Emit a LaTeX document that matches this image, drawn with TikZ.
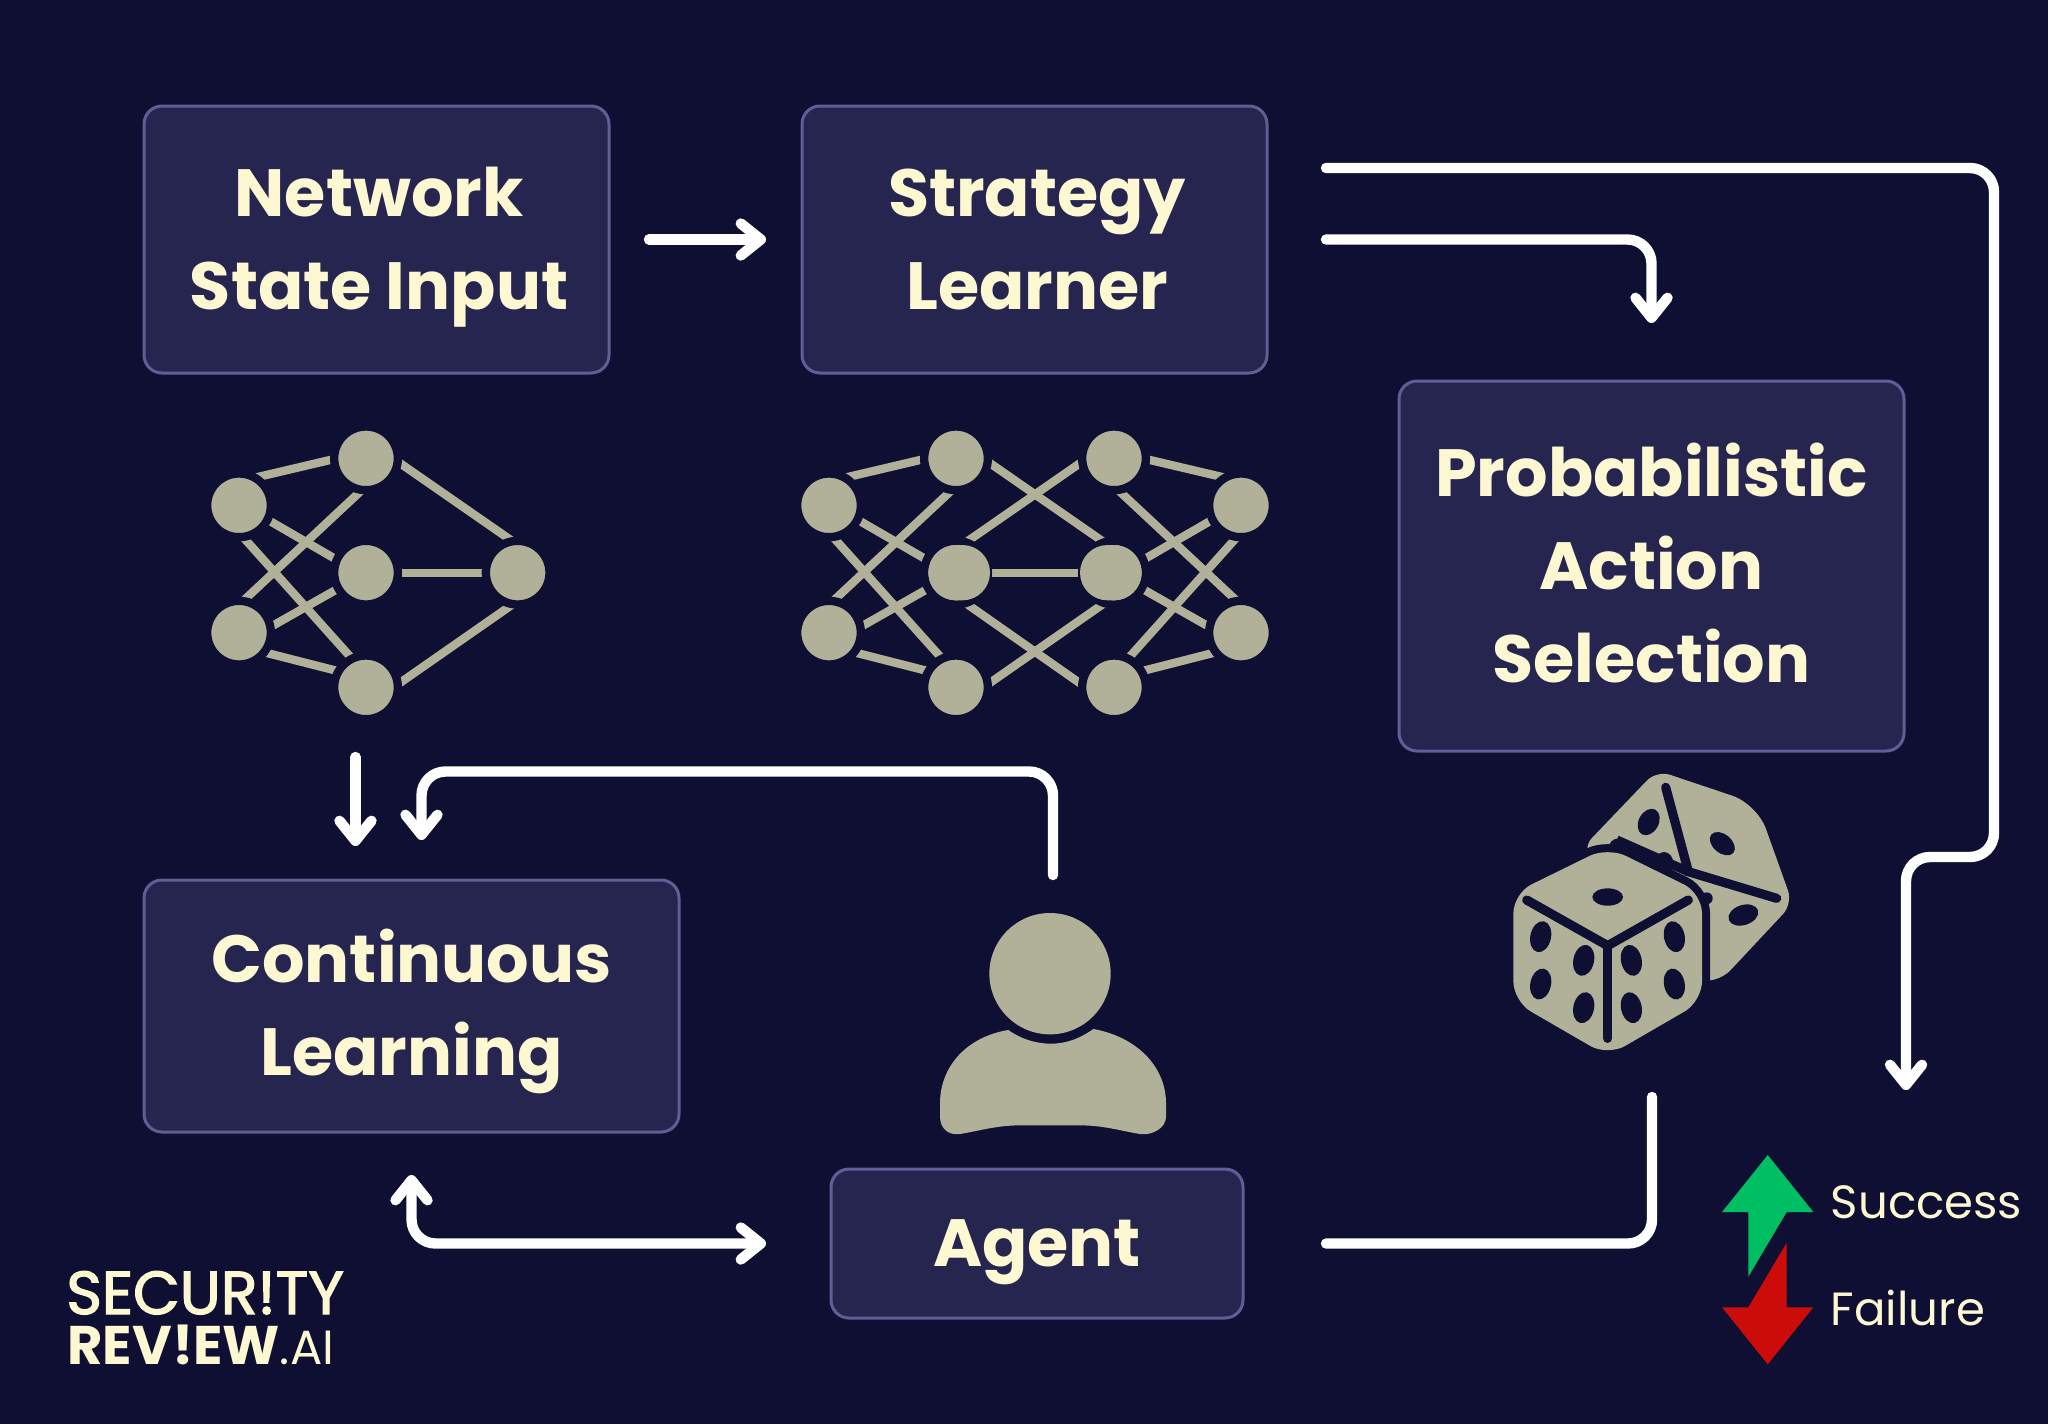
\documentclass[tikz,border=0pt]{standalone}
\usepackage{fontspec}
\setmainfont{Poppins}
\newfontfamily\logofont[RawFeature={embolden=2.2}]{Poppins}
\usepackage{xcolor}
\usetikzlibrary{positioning, arrows.meta}

\definecolor{night}{HTML}{0E0F32}
\definecolor{panel}{HTML}{25254F}
\definecolor{rim}{HTML}{5F5F95}
\definecolor{cream}{HTML}{FDF8D2}
\definecolor{stone}{HTML}{B1B099}
\definecolor{upgreen}{HTML}{00BF63}
\definecolor{downred}{HTML}{CC0C08}

\newcommand{\toprule}{\rule{0pt}{37pt}}

\tikzset{
  icon/.style={x=.16667pt, y=-.16667pt},
  netline/.style={stone, line width=4.17pt, shorten <=-5pt, shorten >=-5pt},
  netdot/.style={fill=stone, draw=night, line width=4.17pt},
  nethalf/.pic={
    \begin{scope}[icon]
    \foreach \ax/\ay/\bx/\by in {212/199/420/150, 243/335/431/444, 168/391/478/737,
                                 170/563/505/250, 252/645/435/541, 235/730/435/781}
      \draw[netline] (\ax,\ay) -- (\bx,\by);
    \foreach \cx/\cy in {147/286, 147/668, 528/145, 528/488, 528/832}
      \filldraw[netdot] (\cx,\cy) circle (95.5);
    \end{scope}
  }
}

\begin{document}
\begin{tikzpicture}[
  x=.5pt, y=-.5pt,
  panelbox/.style={draw=rim, fill=panel, line width=1.5pt, rounded corners=9pt, outer sep=0pt,
                   align=center, text=cream, font=\bfseries\fontsize{33.4}{46.5}\selectfont,
                   execute at end node=\strut},
  arrow/.style={-{Straight Barb[round, length=10pt, width=16pt]}, white, line width=5.2pt,
                line cap=round, rounded corners=12pt},
  plain/.style={white, line width=5.2pt, line cap=round, rounded corners=12pt},
  legendtxt/.style={anchor=base west, text=cream, font=\fontsize{23.3}{28}\selectfont},
  logotxt/.style={anchor=base west, text=cream, inner sep=0pt}
]
\useasboundingbox (0,0) rectangle (2048,1424);
\fill[night] (0,0) rectangle (2048,1424);

\node[panelbox, minimum width=232.5pt, minimum height=133.5pt] (state) at (376.5,239.5) {\toprule\hspace*{2.6pt}Network\\\hspace*{2.6pt}State Input};
\node[panelbox, minimum width=232.5pt, minimum height=133.5pt, right=96.5pt of state] (learner) {\toprule\hspace*{2.6pt}Strategy\\\hspace*{2.6pt}Learner};
\node[panelbox, minimum width=252.5pt, minimum height=185pt] (action) at (1651.5,566) {\toprule Probabilistic\\Action\\Selection};
\node[panelbox, minimum width=267.5pt, minimum height=126pt] (learning) at (411.5,1006) {\toprule Continuous\\Learning};
\node[panelbox, minimum width=206pt, minimum height=74.5pt] (agent) at (1037,1243.5) {\toprule Agent};

% small network
\begin{scope}[shift={(190,410)}, icon]
\foreach \ax/\ay/\bx/\by in {635/163/955/385, 636/488/876/488, 635/815/955/592}
  \draw[netline] (\ax,\ay) -- (\bx,\by);
\filldraw[netdot] (983,488) circle (95.5);
\end{scope}
\pic at (190,410) {nethalf};

% large network
\begin{scope}[shift={(780,410)}, icon]
\foreach \ax/\ay/\bx/\by in {635/163/955/385, 895/163/575/385, 636/488/893/488,
                             575/592/893/815, 955/592/635/815}
  \draw[netline] (\ax,\ay) -- (\bx,\by);
\end{scope}
\pic at (780,410) {nethalf};
\pic[xscale=-1] at (1290,410) {nethalf};
\begin{scope}[shift={(780,410)}, icon]
\fill[stone, rounded corners=13.8pt] (445,405) rectangle (630,571);
\fill[stone, rounded corners=13.8pt] (900,405) rectangle (1085,571);
\end{scope}

% dice
\begin{scope}[shift={(1450,750)}, icon]
\fill[stone, rounded corners=7pt] (620,61) [rounded corners=13pt] -- (921,162)
  [rounded corners=7pt] -- (1028,461) -- (812,692) -- (700,692) -- (396,295) -- cycle;
\draw[night, line width=4.6pt, line cap=round] (647,112) -- (715,365) -- (980,445);
\draw[night, line width=4.6pt] (715,365) -- (500,270);
\foreach \px/\py/\pipw/\piph/\ang in {596/216/30/42/-28, 817/281/43/28/-40, 880/495/46/30/18,
                                  503/292/26/26/0, 642/340/28/34/0, 770/445/18/18/0}
  \fill[night, shift={(\px,\py)}, rotate=\ang] (0,0) ellipse [x radius=\pipw, y radius=\piph];
% front die
\filldraw[fill=stone, draw=night, line width=8pt, rounded corners=10pt]
  (473,291) -- (756,430) -- (756,754) -- (473,918) -- (190,754) -- (190,430) -- cycle;
\fill[stone, rounded corners=10pt]
  (473,291) -- (756,430) -- (756,754) -- (473,918) -- (190,754) -- (190,430) -- cycle;
\draw[night, line width=4.6pt, line cap=round] (230,450) -- (473,587) -- (715,450);
\draw[night, line width=4.6pt, line cap=round] (473,587) -- (473,865);
\fill[night] (473,441) ellipse [x radius=46, y radius=26];
\foreach \px/\py in {272/560, 272/702, 401/631, 401/773}
  \fill[night, shift={(\px,\py)}, rotate=-12] (0,0) ellipse [x radius=31, y radius=47];
\foreach \px/\py in {544/631, 544/773, 673/560, 673/702}
  \fill[night, shift={(\px,\py)}, rotate=12] (0,0) ellipse [x radius=31, y radius=47];
\end{scope}

% person
\begin{scope}[shift={(920,890)}, icon]
\fill[stone] (390,251) circle (182);
\fill[stone] (265,420) .. controls (140,440) and (60,530) .. (60,640) -- (60,680)
  .. controls (60,715) and (85,737) .. (120,732) .. controls (180,722) and (230,706) .. (300,706)
  -- (480,706) .. controls (550,706) and (600,722) .. (660,732)
  .. controls (695,737) and (738,715) .. (738,680) -- (738,640)
  .. controls (738,530) and (650,440) .. (520,417) .. controls (480,445) and (440,461) .. (392,461)
  .. controls (345,461) and (300,445) .. (265,420) -- cycle;
\end{scope}

% free ends of the connectors
\coordinate (netfoot) at (355.5,757);
\coordinate (user) at (1053,875);
\coordinate (loopturn) at (421.5,771.5);
\coordinate (bend) at (1994,857);
\coordinate (legend) at (1906,1090);
\coordinate (dicefoot) at (1652,1097);

\draw[arrow, shorten <=20pt, shorten >=18pt] (state.east) -- (learner.west);
\draw[arrow, shorten <=29.5pt, shorten >=29pt] (learner.east) -| (action.north);
\draw[arrow, shorten <=29.5pt] ([yshift=35.75pt]learner.east) -| (bend) -| (legend);
\draw[arrow, shorten >=17pt] (netfoot) -- (netfoot |- learning.north);
\draw[arrow, shorten >=20pt] (user) |- (loopturn) -- (loopturn |- learning.north);
\draw[{Straight Barb[round, length=10pt, width=16pt]}-{Straight Barb[round, length=10pt, width=16pt]},
      white, line width=5.2pt, line cap=round, rounded corners=12pt, shorten <=21.5pt, shorten >=32.5pt]
  (learning.south) |- (agent.west);
\draw[plain, shorten <=41.5pt] (agent.east) -| (dicefoot);

% legend
\fill[upgreen] (1767.7,1155) -- (1813.3,1212) -- (1786.7,1212) -- (1748.3,1276.7) -- (1748.3,1212) -- (1722,1212) -- cycle;
\fill[downred] (1786.7,1242.7) -- (1786.7,1307.3) -- (1813.3,1307.3) -- (1767.7,1364.3) -- (1722,1307.3) -- (1748.3,1307.3) -- cycle;
\node[legendtxt, inner sep=0pt] (success) at (1830.5,1218) {Success};
\node[legendtxt, inner sep=0pt] (failure) at (1830.5,1325) {Failure};

% logo
\node[logotxt, font=\logofont\fontsize{30.3}{30}\selectfont] (logotop) at (66,1314) {SECUR!TY};
\node[logotxt, font=\bfseries\fontsize{27.2}{25}\selectfont] (logobottom) at (67,1364) {REV!EW\mdseries\fontsize{24}{24}\selectfont.AI};
\end{tikzpicture}
\end{document}
